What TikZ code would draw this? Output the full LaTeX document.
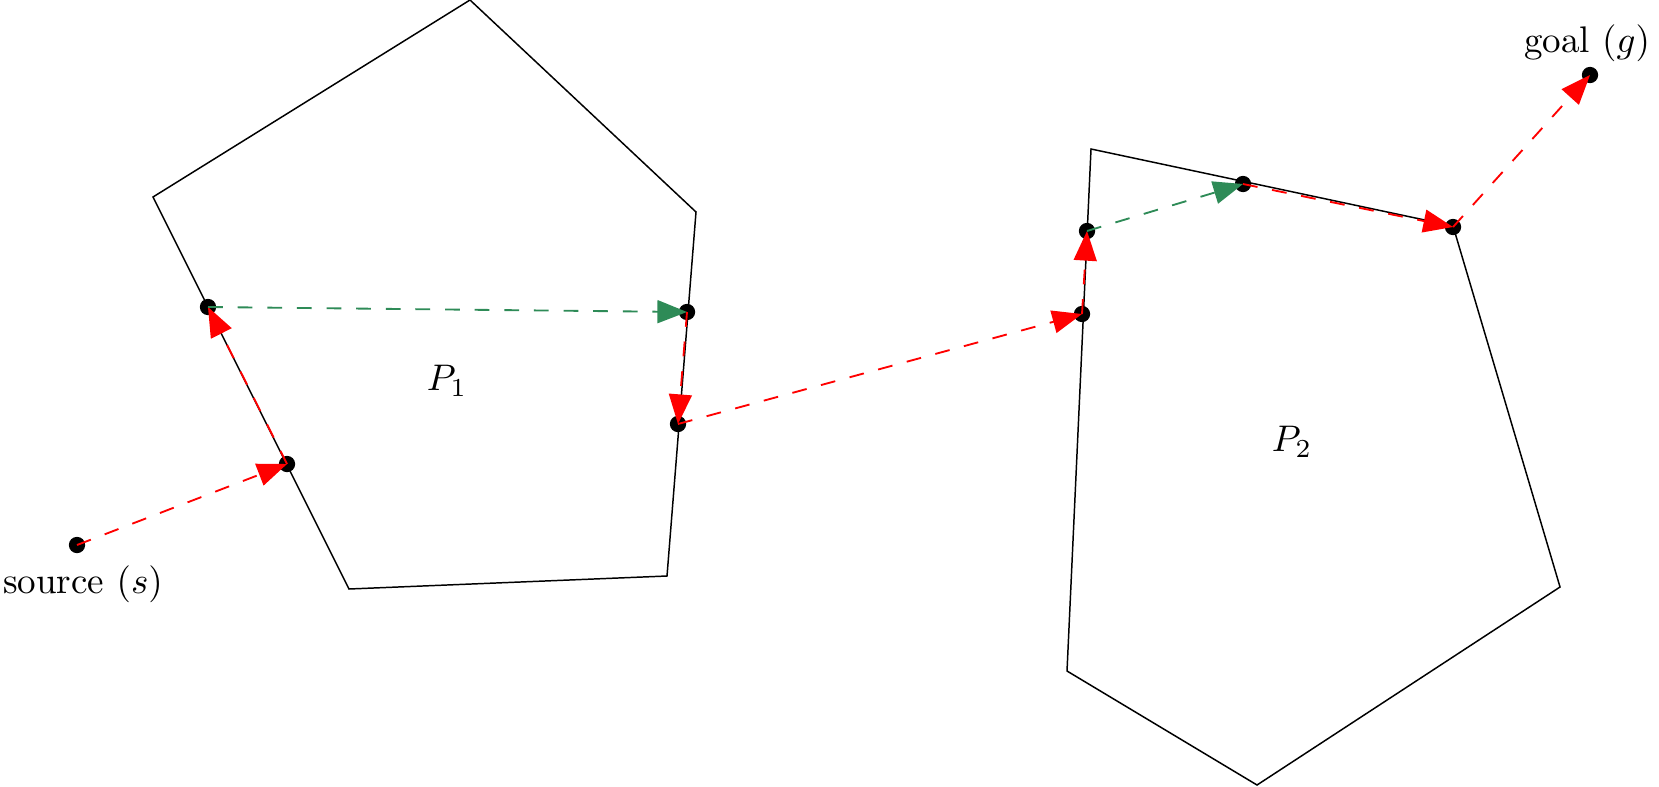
\documentclass[tikz,border=0pt]{standalone}
\usetikzlibrary{arrows.meta}
\definecolor{pathgreen}{RGB}{46,139,87}
\tikzset{
  dot/.style={circle,fill=black,inner sep=0pt,minimum size=4.4pt},
  poly/.style={draw=black,line width=0.4pt,line join=miter},
  redarr/.style={draw=red,line width=0.5pt,dash pattern=on 4pt off 4pt,-{Triangle[length=8pt,width=6.2pt]}},
  greenarr/.style={draw=pathgreen,line width=0.5pt,dash pattern=on 4pt off 4pt,-{Triangle[length=8pt,width=6.2pt]}},
  lbl/.style={inner sep=0pt}
}
\begin{document}
\begin{tikzpicture}[x=0.27pt,y=-0.27pt]
\useasboundingbox (0,0) rectangle (1659,786);
% polygons
\draw[poly] (470,0) -- (696,212) -- (667,576) -- (349,589) -- (153,197) -- cycle;
\draw[poly] (1091,149) -- (1453,226) -- (1560,587) -- (1257,785) -- (1067,671) -- cycle;
\node[lbl] (p1) at (447,381) {$P_1$};
\node[lbl] (p2) at (1292,442) {$P_2$};
% points
\node[dot] (s) at (77,545) {};
\node[dot] (b) at (287,464) {};
\node[dot] (a) at (208,307) {};
\node[dot] (c) at (687,312) {};
\node[dot] (d) at (678,424) {};
\node[dot] (e) at (1082,314) {};
\node[dot] (f) at (1087,231) {};
\node[dot] (g) at (1243,184) {};
\node[dot] (h) at (1453,227) {};
\node[dot] (t) at (1590,75) {};
\node[lbl,anchor=north] (slab) at (83,565) {source $(s)$};
\node[lbl,anchor=south] (tlab) at (1587,62) {goal $(g)$};
% path
\draw[redarr] (s.center) -- (b.center);
\draw[redarr] (b.center) -- (a.center);
\draw[greenarr] (a.center) -- (c.center);
\draw[redarr] (c.center) -- (d.center);
\draw[redarr] (d.center) -- (e.center);
\draw[redarr] (e.center) -- (f.center);
\draw[greenarr] (f.center) -- (g.center);
\draw[redarr] (g.center) -- (h.center);
\draw[redarr] (h.center) -- (t.center);
\end{tikzpicture}
\end{document}
